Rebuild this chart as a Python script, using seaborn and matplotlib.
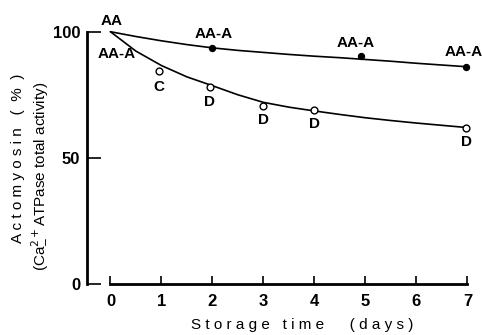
import matplotlib
matplotlib.use("Agg")
import matplotlib.pyplot as plt
import seaborn as sns
import pandas as pd

# measured points
aa_days = [0, 2.0, 4.91, 6.98]
aa_vals = [100, 93.4, 90.4, 86.1]
ctrl_days = [0.95, 1.95, 3.0, 3.99, 6.97]
ctrl_vals = [84.5, 78.0, 70.5, 69.0, 61.7]

# drawn fit curves (at half-day steps)
curve_days = [0, 0.5, 1, 1.5, 2, 2.5, 3, 3.5, 4, 4.5, 5, 5.5, 6, 6.5, 7]
curve_aa = [100, 98.1, 96.4, 94.9, 93.6, 92.6, 91.8, 91.0, 90.3, 89.7, 89.0, 88.3, 87.5, 86.8, 86.1]
curve_ctrl = [100, 92.3, 86.6, 82.1, 78.6, 75.0, 72.0, 70.1, 68.6, 67.2, 65.9, 64.8, 63.8, 62.9, 62.0]

# point labels: text, day, value
labels = [("AA", 0.03, 104.4), ("AA-A", 0.12, 91.0), ("AA-A", 2.03, 99.1),
          ("AA-A", 4.81, 95.4), ("AA-A", 6.93, 91.8), ("C", 0.95, 78.0),
          ("D", 1.95, 72.3), ("D", 3.0, 65.0), ("D", 4.01, 63.4), ("D", 6.98, 56.4)]

x_ticks = [0, 1, 2, 3, 4, 5, 6, 7]
y_ticks = [0, 50, 100]

sns.set_style("ticks")
plt.rcParams['font.family'] = ['Liberation Sans', 'DejaVu Sans']
for k in ["text.color", "axes.labelcolor", "xtick.color", "ytick.color", "axes.edgecolor"]:
    plt.rcParams[k] = "black"

fig = plt.figure(figsize=(4.82, 3.35), dpi=100)
ax = fig.add_axes([0.1805, 0.1522, 0.7946, 0.8284])

curves = pd.DataFrame({"day": curve_days, "aa": curve_aa, "ctrl": curve_ctrl})
sns.lineplot(data=curves, x="day", y="aa", color="black", lw=1.2, ax=ax)
sns.lineplot(data=curves, x="day", y="ctrl", color="black", lw=1.2, ax=ax)

sns.scatterplot(x=aa_days[1:], y=aa_vals[1:], color="black", s=20, edgecolor="black",
                linewidth=0.8, ax=ax, zorder=5)
sns.scatterplot(x=ctrl_days, y=ctrl_vals, facecolor="white", s=24, edgecolor="black",
                linewidth=1.0, ax=ax, zorder=5)

for txt, dx, dy in labels:
    ax.text(dx, dy, txt, ha="center", va="center", fontsize=11, fontweight="bold")

ax.set_xlim(-0.46, 7.05)
ax.set_ylim(0, 110)
ax.set_xticks(x_ticks)
ax.set_yticks(y_ticks)
ax.set_xticklabels([str(t) for t in x_ticks], fontsize=12, fontweight="bold")
ax.set_yticklabels([str(t) for t in y_ticks], fontsize=12, fontweight="bold")
ax.set_xlabel("")
ax.set_ylabel("")

sns.despine(ax=ax)
ax.spines["bottom"].set_bounds(0, 7)
ax.spines["left"].set_bounds(0, 100)
ax.spines["bottom"].set_linewidth(2.0)
ax.spines["left"].set_linewidth(2.0)
ax.tick_params(axis="x", direction="in", length=6, width=1.2, pad=7)
ax.tick_params(axis="y", direction="in", length=10, width=1.2, pad=5)

fig.text(0.627, 0.03, "S t o r a g e   t i m e      ( d a y s )", ha="center", va="center",
         fontsize=11)
fig.text(0.037, 0.527, "A c t o m y o s i n   (  %  )", rotation=90, ha="center", va="center",
         fontsize=11)
fig.text(0.083, 0.473, "(Ca$^{2+}_{-}$ATPase total activity)", rotation=90, ha="center",
         va="center", fontsize=11)

fig.savefig("out.png", dpi=100)
